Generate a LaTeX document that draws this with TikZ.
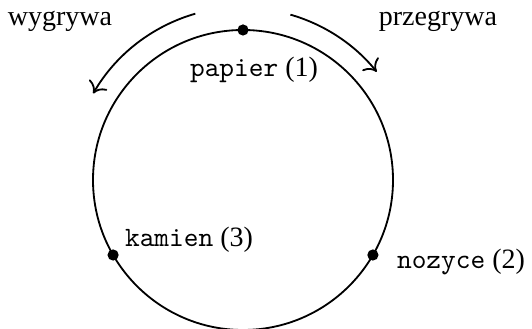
\documentclass[tikz,border=0pt]{standalone}
\usepackage{fontspec}
\setmainfont{Liberation Serif}
\usetikzlibrary{positioning,arrows.meta}

\begin{document}
\begin{tikzpicture}[
    x=0.357pt, y=0.357pt,
    dot/.style={circle, fill=black, inner sep=0pt, minimum size=4pt},
    lbl/.style={font=\normalsize, inner sep=0pt},
    arrow/.style={-{To[length=3.8pt, width=7.5pt]}, line width=0.65pt}
]
\useasboundingbox (0,0) rectangle (532,329);

% Circle
\coordinate (c) at (243,149);
\draw[line width=0.65pt] (c) circle[radius=150];

% ------------------ Players ------------------
\node[dot] (papier) at ([shift={(90:150)}]c) {};
\node[dot] (nozyce) at ([shift={(-30:150)}]c) {};
\node[dot] (kamien) at ([shift={(210:150)}]c) {};

\node[lbl] (papierlbl) at (254,259) {\texttt{papier} (1)};
\node[lbl] (nozycelbl) at (461,67) {\texttt{nozyce} (2)};
\node[lbl] (kamienlbl) at (189,89) {\texttt{kamien} (3)};

% ------------------ Arrows ------------------
\draw[arrow] ([shift={(106:173)}]c) arc[start angle=106, end angle=150, radius=173];
\draw[arrow] ([shift={(74:172)}]c) arc[start angle=74, end angle=39, radius=172];

\node[lbl] (wygrywa) at (60,308) {wygrywa};
\node[lbl] (przegrywa) at (438,308) {przegrywa};

\end{tikzpicture}
\end{document}
